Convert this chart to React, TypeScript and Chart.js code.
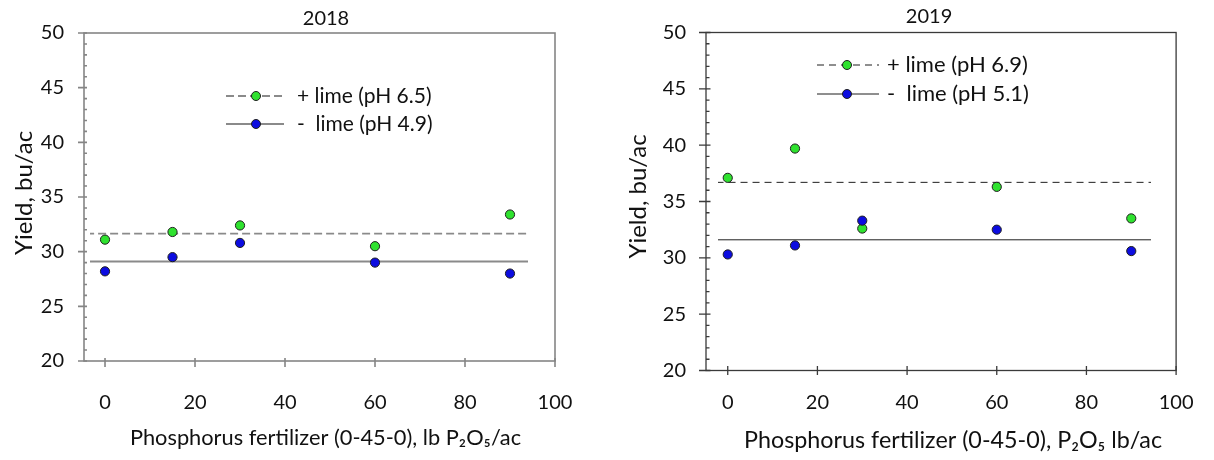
import React, { useEffect, useRef } from 'react';
import { Chart, registerables } from 'chart.js';

Chart.register(...registerables);

// ---------- data ----------
const rates = [0, 15, 30, 60, 90];

const limed2018 = [31.1, 31.8, 32.4, 30.5, 33.4];
const unlimed2018 = [28.2, 29.5, 30.8, 29.0, 28.0];
const limedMean2018 = 31.65;
const unlimedMean2018 = 29.1;
const meanSpan2018 = [-4.2, 94];

const limed2019 = [37.1, 39.7, 32.6, 36.3, 33.5];
const unlimed2019 = [30.3, 31.1, 33.3, 32.5, 30.6];
const limedMean2019 = 36.7;
const unlimedMean2019 = 31.6;
const meanSpan2019 = [-2.5, 94.4];

const xTickValues = [0, 20, 40, 60, 80, 100];
const yTickValues = [20, 25, 30, 35, 40, 45, 50];
const yMinorValues = [21, 22, 23, 24, 26, 27, 28, 29, 31, 32, 33, 34, 36, 37, 38, 39, 41, 42, 43, 44, 46, 47, 48, 49];

const legend2018 = ['+ lime (pH 6.5)', '-  lime (pH 4.9)'];
const legend2019 = ['+ lime (pH 6.9)', '-  lime (pH 5.1)'];
const xTitle2018 = 'Phosphorus fertilizer (0-45-0), lb P\u2082O\u2085/ac';
const xTitle2019 = 'Phosphorus fertilizer (0-45-0), P\u2082O\u2085 lb/ac';
const yTitle = 'Yield, bu/ac';

// ---------- styles ----------
const FONT = "Lato, 'Open Sans', 'DejaVu Sans', sans-serif";
const GREEN = '#2fe22f';
const BLUE = '#0c0ce0';
const EDGE = '#1f1f1f';
const TEXT = '#111111';

type Panel = {
  title: string;
  limed: number[];
  unlimed: number[];
  limedMean: number;
  unlimedMean: number;
  span: number[];
  legend: string[];
  xTitle: string;
  canvasLeft: number;
  canvasWidth: number;
  yAxisWidth: number;
  padRight: number;
  xAxisHeight: number;
  xMin: number;
  titlePad: { top: number; bottom: number };
  titleShift: number;
  xTitleShift: number;
  yTitleShift: number;
  xTickPad: number;
  yTickPad: number;
  tickFont: number;
  xTitleFont: number;
  xTitlePadB: number;
  yTitleFont: number;
  yTitlePadT: number;
  axisColor: string;
  axisWidth: number;
  meanColor: string;
  meanWidth: number;
  dash: number[];
  majorOut: number;
  majorIn: number;
  minorIn: number;
  xTickUp: number;
  xTickDown: number;
  legRows: number[];
  legX1: number;
  legX2: number;
  legMx: number;
  legTx: number;
  legFont: number;
  blueOnTop: boolean;
};

const panel2018: Panel = {
  title: '2018',
  limed: limed2018,
  unlimed: unlimed2018,
  limedMean: limedMean2018,
  unlimedMean: unlimedMean2018,
  span: meanSpan2018,
  legend: legend2018,
  xTitle: xTitle2018,
  canvasLeft: 0,
  canvasWidth: 605,
  yAxisWidth: 84,
  padRight: 50,
  xAxisHeight: 99,
  xMin: -4.67,
  titlePad: { top: 7, bottom: 2 },
  titleShift: 6.5,
  xTitleShift: 6,
  yTitleShift: -4,
  xTickPad: 30,
  yTickPad: 20,
  tickFont: 20,
  xTitleFont: 21.8,
  xTitlePadB: 9,
  yTitleFont: 24,
  yTitlePadT: 9.6,
  axisColor: '#858585',
  axisWidth: 1.6,
  meanColor: '#8a8a8a',
  meanWidth: 1.8,
  dash: [8, 4],
  majorOut: 6,
  majorIn: 3,
  minorIn: 3,
  xTickUp: 3,
  xTickDown: 6,
  legRows: [96, 124],
  legX1: 226,
  legX2: 284,
  legMx: 256,
  legTx: 297,
  legFont: 21,
  blueOnTop: false,
};

const panel2019: Panel = {
  title: '2019',
  limed: limed2019,
  unlimed: unlimed2019,
  limedMean: limedMean2019,
  unlimedMean: unlimedMean2019,
  span: meanSpan2019,
  legend: legend2019,
  xTitle: xTitle2019,
  canvasLeft: 605,
  canvasWidth: 609,
  yAxisWidth: 101,
  padRight: 24,
  xAxisHeight: 89.5,
  xMin: -4.85,
  titlePad: { top: 5, bottom: 3.5 },
  titleShift: -12,
  xTitleShift: 12,
  yTitleShift: -5,
  xTickPad: 20.5,
  yTickPad: 20,
  tickFont: 20,
  xTitleFont: 23.3,
  xTitlePadB: 6,
  yTitleFont: 24,
  yTitlePadT: 18.6,
  axisColor: '#3a3a3a',
  axisWidth: 1.3,
  meanColor: '#1e1e1e',
  meanWidth: 1,
  dash: [7, 5],
  majorOut: 7,
  majorIn: 4.5,
  minorIn: 3.5,
  xTickUp: 4.5,
  xTickDown: 4.5,
  legRows: [65, 94],
  legX1: 212,
  legX2: 274,
  legMx: 242,
  legTx: 282,
  legFont: 22,
  blueOnTop: true,
};

function buildChart(canvas: HTMLCanvasElement, p: Panel): Chart {
  const pts = (vals: number[]) => rates.map((r, i) => ({ x: r, y: vals[i] }));
  const limedPts: any = {
    label: p.legend[0],
    data: pts(p.limed),
    backgroundColor: GREEN,
    borderColor: EDGE,
    borderWidth: 1,
    pointRadius: 4.6,
    showLine: false,
  };
  const unlimedPts: any = {
    label: p.legend[1],
    data: pts(p.unlimed),
    backgroundColor: BLUE,
    borderColor: EDGE,
    borderWidth: 1,
    pointRadius: 4.6,
    showLine: false,
  };
  const limedLine: any = {
    label: 'mean +lime',
    data: p.span.map((x) => ({ x, y: p.limedMean })),
    showLine: true,
    pointRadius: 0,
    borderColor: p.meanColor,
    borderWidth: p.meanWidth,
    borderDash: p.dash,
    fill: false,
  };
  const unlimedLine: any = {
    label: 'mean -lime',
    data: p.span.map((x) => ({ x, y: p.unlimedMean })),
    showLine: true,
    pointRadius: 0,
    borderColor: p.meanColor,
    borderWidth: p.meanWidth,
    fill: false,
  };
  const datasets = p.blueOnTop
    ? [unlimedPts, limedPts, limedLine, unlimedLine]
    : [limedPts, unlimedPts, limedLine, unlimedLine];

  const decor = {
    id: 'decor',
    afterLayout(chart: any) {
      const tb = chart.titleBlock;
      if (tb) {
        tb.left += p.titleShift;
        tb.right += p.titleShift;
      }
      // nudge axis-title centring only (ticks already configured)
      const xs = chart.scales.x;
      const ys = chart.scales.y;
      if (xs) {
        xs.left += p.xTitleShift;
        xs.right += p.xTitleShift;
      }
      if (ys) {
        ys.top += p.yTitleShift;
        ys.bottom += p.yTitleShift;
      }
    },
    beforeDatasetsDraw(chart: any) {
      const ctx = chart.ctx as CanvasRenderingContext2D;
      const { left, right, top, bottom } = chart.chartArea;
      const xs = chart.scales.x;
      const ys = chart.scales.y;
      ctx.save();
      ctx.strokeStyle = p.axisColor;
      ctx.lineWidth = p.axisWidth;
      ctx.setLineDash([]);
      ctx.strokeRect(left, top, right - left, bottom - top);
      ctx.beginPath();
      yTickValues.forEach((v) => {
        const y = ys.getPixelForValue(v);
        ctx.moveTo(left - p.majorOut, y);
        ctx.lineTo(left + p.majorIn, y);
      });
      yMinorValues.forEach((v) => {
        const y = ys.getPixelForValue(v);
        ctx.moveTo(left, y);
        ctx.lineTo(left + p.minorIn, y);
      });
      xTickValues.forEach((v) => {
        const x = xs.getPixelForValue(v);
        ctx.moveTo(x, bottom - p.xTickUp);
        ctx.lineTo(x, bottom + p.xTickDown);
      });
      ctx.stroke();
      ctx.restore();
    },
    afterDatasetsDraw(chart: any) {
      const ctx = chart.ctx as CanvasRenderingContext2D;
      const items = [
        { text: p.legend[0], line: limedLine, pt: limedPts },
        { text: p.legend[1], line: unlimedLine, pt: unlimedPts },
      ];
      ctx.save();
      items.forEach((it, i) => {
        const y = p.legRows[i];
        ctx.strokeStyle = it.line.borderColor;
        ctx.lineWidth = it.line.borderWidth;
        ctx.setLineDash(it.line.borderDash || []);
        ctx.beginPath();
        ctx.moveTo(p.legX1, y);
        ctx.lineTo(p.legX2, y);
        ctx.stroke();
        ctx.setLineDash([]);
        ctx.beginPath();
        ctx.arc(p.legMx, y, 4.5, 0, Math.PI * 2);
        ctx.fillStyle = it.pt.backgroundColor;
        ctx.fill();
        ctx.lineWidth = 1;
        ctx.strokeStyle = EDGE;
        ctx.stroke();
        ctx.fillStyle = TEXT;
        ctx.font = `${p.legFont}px ${FONT}`;
        ctx.textBaseline = 'middle';
        ctx.textAlign = 'left';
        ctx.fillText(it.text, p.legTx, y);
      });
      ctx.restore();
    },
  };

  return new Chart(canvas, {
    type: 'scatter',
    data: { datasets },
    options: {
      responsive: false,
      animation: false,
      devicePixelRatio: 1,
      events: [],
      layout: { padding: { left: 0, right: p.padRight, top: 0, bottom: 0 } },
      plugins: {
        legend: { display: false },
        tooltip: { enabled: false },
        title: {
          display: true,
          text: p.title,
          fullSize: false,
          color: TEXT,
          font: { family: FONT, size: 20, weight: 'normal' },
          padding: p.titlePad,
        },
      },
      scales: {
        x: {
          type: 'linear',
          position: 'bottom',
          min: p.xMin,
          max: 100,
          afterBuildTicks: (s: any) => {
            s.ticks = xTickValues.map((v) => ({ value: v }));
          },
          afterFit: (s: any) => {
            s.height = p.xAxisHeight;
          },
          grid: { display: false, drawTicks: false },
          border: { display: false },
          ticks: {
            padding: p.xTickPad,
            autoSkip: false,
            maxRotation: 0,
            color: TEXT,
            font: { family: FONT, size: p.tickFont },
          },
          title: {
            display: true,
            text: p.xTitle,
            color: TEXT,
            font: { family: FONT, size: p.xTitleFont },
            padding: { top: 0, bottom: p.xTitlePadB },
          },
        },
        y: {
          type: 'linear',
          position: 'left',
          min: 20,
          max: 50,
          afterBuildTicks: (s: any) => {
            s.ticks = yTickValues.map((v) => ({ value: v }));
          },
          afterFit: (s: any) => {
            s.width = p.yAxisWidth;
          },
          grid: { display: false, drawTicks: false },
          border: { display: false },
          ticks: {
            padding: p.yTickPad,
            color: TEXT,
            font: { family: FONT, size: p.tickFont },
          },
          title: {
            display: true,
            text: yTitle,
            color: TEXT,
            font: { family: FONT, size: p.yTitleFont },
            padding: { top: p.yTitlePadT, bottom: 0 },
          },
        },
      },
    },
    plugins: [decor],
  } as any);
}

function ChartPanel({ panel }: { panel: Panel }) {
  const ref = useRef<HTMLCanvasElement | null>(null);
  useEffect(() => {
    if (!ref.current) return;
    const chart = buildChart(ref.current, panel);
    return () => chart.destroy();
  }, [panel]);
  return (
    <canvas
      ref={ref}
      width={panel.canvasWidth}
      height={460}
      style={{
        position: 'absolute',
        left: panel.canvasLeft,
        top: 0,
        width: panel.canvasWidth,
        height: 460,
      }}
    />
  );
}

export default function App() {
  return (
    <div
      style={{
        position: 'fixed',
        left: 0,
        top: 0,
        width: 1214,
        height: 460,
        background: '#ffffff',
        overflow: 'hidden',
      }}
    >
      <ChartPanel panel={panel2018} />
      <ChartPanel panel={panel2019} />
    </div>
  );
}
